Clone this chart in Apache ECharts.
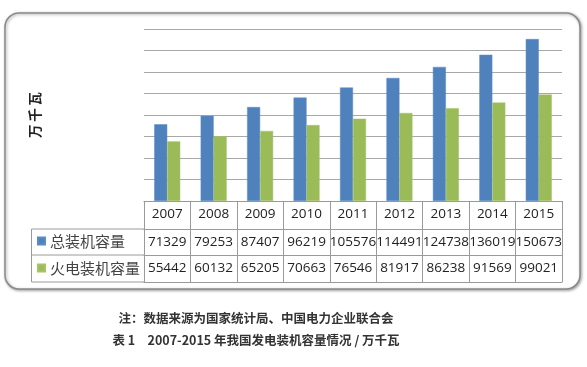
<!DOCTYPE html>
<html>
<head>
<meta charset="utf-8">
<script src="https://cdn.jsdelivr.net/npm/echarts@6/dist/echarts.min.js"></script>
<style>
html,body{margin:0;padding:0;background:#fff;}
#c{width:587px;height:367px;}
</style>
</head>
<body>
<div id="c"></div>
<script>
var years = ['2007','2008','2009','2010','2011','2012','2013','2014','2015'];
var totalCap = [71329, 79253, 87407, 96219, 105576, 114491, 124738, 136019, 150673];
var thermalCap = [55442, 60132, 65205, 70663, 76546, 81917, 86238, 91569, 99021];
var seriesNames = ['总装机容量', '火电装机容量'];
var yUnit = '万\u2009千\u2009瓦';
var note1 = '注：数据来源为国家统计局、中国电力企业联合会';
var note2 = '表 1　2007-2015 年我国发电装机容量情况 / 万千瓦';

var LINE = '#9a9a9a';
var numFont = 'Open Sans, Liberation Sans, sans-serif';
var cjkFont = 'Noto Sans CJK SC, sans-serif';

function tableAxis(data, offset, tickLen, showLabel) {
  return {
    type: 'category',
    data: data,
    position: 'bottom',
    offset: offset,
    gridIndex: 0,
    boundaryGap: true,
    axisLine: { show: true, lineStyle: { color: LINE, width: 1 } },
    axisTick: { show: tickLen > 0, length: tickLen, alignWithLabel: false, lineStyle: { color: LINE, width: 1 } },
    axisLabel: {
      show: showLabel, interval: 0, margin: 13.5, verticalAlign: 'middle',
      fontFamily: numFont, fontSize: 13.5, color: '#222'
    },
    splitLine: { show: false }
  };
}

var chart = echarts.init(document.getElementById('c'), null, { renderer: 'canvas' });
chart.setOption({
  animation: false,
  backgroundColor: '#fff',
  grid: { left: 144, top: 29, width: 418, height: 172, containLabel: false },
  legend: {
    data: seriesNames,
    orient: 'vertical',
    left: 37,
    top: 233.5,
    padding: 0,
    itemWidth: 7,
    itemHeight: 7,
    itemGap: 12,
    icon: 'rect',
    selectedMode: false,
    textStyle: { fontFamily: cjkFont, fontSize: 15, color: '#444' }
  },
  xAxis: [
    tableAxis(years, 0, 28, true),
    tableAxis(totalCap.map(String), 28, 26, true),
    tableAxis(thermalCap.map(String), 54, 27, true),
    tableAxis(years, 81, 0, false)
  ],
  yAxis: {
    type: 'value',
    min: 0,
    max: 160000,
    interval: 20000,
    name: yUnit,
    nameLocation: 'middle',
    nameRotate: 90,
    nameGap: 102,
    nameTextStyle: { fontFamily: cjkFont, fontSize: 13.5, fontWeight: 'bold', color: '#222' },
    axisLine: { show: false },
    axisTick: { show: false },
    axisLabel: { show: false },
    splitLine: { show: true, lineStyle: { color: '#a8a8a8', width: 1 } }
  },
  series: [
    {
      name: seriesNames[0], type: 'bar', data: totalCap, xAxisIndex: 0,
      barGap: '0%', barCategoryGap: '44%',
      itemStyle: { color: '#4F81BD', borderColor: '#5a8cc6', borderWidth: 0.5 }
    },
    {
      name: seriesNames[1], type: 'bar', data: thermalCap, xAxisIndex: 0,
      barGap: '0%', barCategoryGap: '44%',
      itemStyle: { color: '#9BBB59', borderColor: '#a5c466', borderWidth: 0.5 }
    }
  ],
  graphic: [
    {
      type: 'rect', z: -10, silent: true,
      shape: { x: 5, y: 13, width: 575, height: 276, r: 14 },
      style: { fill: '#fff', stroke: '#8a8a8a', lineWidth: 1.5,
               shadowBlur: 3, shadowOffsetX: 1, shadowOffsetY: 1, shadowColor: 'rgba(0,0,0,0.35)' }
    },
    {
      type: 'polyline', z: 10, silent: true,
      shape: { points: [[144, 229], [31.5, 229], [31.5, 282], [144, 282]] },
      style: { fill: null, stroke: LINE, lineWidth: 1 }
    },
    {
      type: 'line', z: 10, silent: true,
      shape: { x1: 31.5, y1: 255, x2: 144, y2: 255 },
      style: { stroke: LINE, lineWidth: 1 }
    },
    {
      type: 'text', silent: true,
      style: { x: 256, y: 318, text: note1, textAlign: 'center', textVerticalAlign: 'middle',
               font: 'bold 12.5px ' + cjkFont, fill: '#333' }
    },
    {
      type: 'text', silent: true,
      style: { x: 256, y: 340, text: note2, textAlign: 'center', textVerticalAlign: 'middle',
               font: 'bold 12.5px ' + cjkFont, fill: '#333' }
    }
  ]
});
</script>
</body>
</html>
